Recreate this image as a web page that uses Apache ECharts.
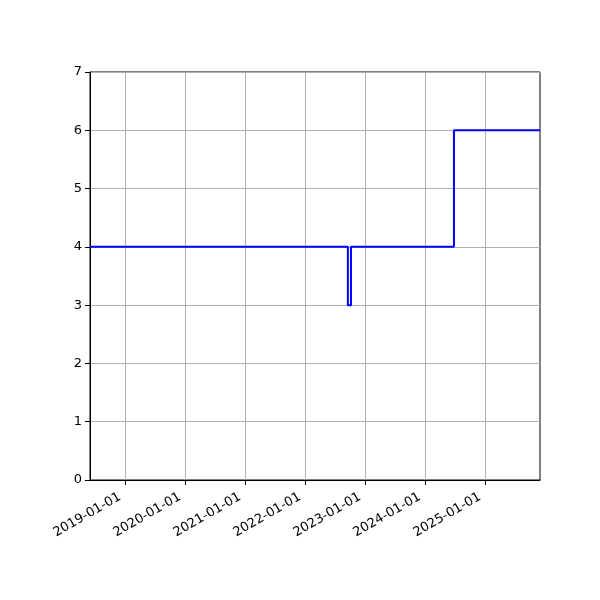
<!DOCTYPE html>
<html>
<head>
<meta charset="utf-8">
<script src="https://cdn.jsdelivr.net/npm/echarts@6/dist/echarts.min.js"></script>
<style>html,body{margin:0;padding:0;background:#fff}#c{width:600px;height:600px}</style>
</head>
<body>
<div id="c"></div>
<script>
var dates = ['2018-06-01', '2022-09-18', '2022-10-07', '2024-06-25', '2025-12-01'];
var values = [4, 3, 4, 6, 6];
var xTickLabels = ['2019-01-01', '2020-01-01', '2021-01-01', '2022-01-01', '2023-01-01', '2024-01-01', '2025-01-01'];
var xMin = '2018-06-01';
var xMax = '2025-12-01';
var yTicks = [0, 1, 2, 3, 4, 5, 6, 7];

function ts(s) { return Date.parse(s + 'T00:00:00Z'); }
function fmt(v) {
  var d = new Date(v);
  var p = function (n) { return (n < 10 ? '0' : '') + n; };
  return d.getUTCFullYear() + '-' + p(d.getUTCMonth() + 1) + '-' + p(d.getUTCDate());
}
var tickVals = xTickLabels.map(ts);
var data = dates.map(function (d, i) { return [ts(d), values[i]]; });

var chart = echarts.init(document.getElementById('c'));
chart.setOption({
  animation: false,
  grid: { left: 90, right: 60, top: 72, bottom: 120, show: true, borderColor: '#000', borderWidth: 1, backgroundColor: 'transparent' },
  xAxis: {
    type: 'value',
    min: ts(xMin), max: ts(xMax),
    axisLine: { show: true, lineStyle: { color: '#000', width: 1 } },
    axisTick: { show: true, customValues: tickVals, length: 5, lineStyle: { color: '#000' } },
    axisLabel: {
      customValues: tickVals, rotate: 30, margin: 13, padding: [0, 6, 0, 0],
      color: '#000', fontSize: 13, fontFamily: 'DejaVu Sans',
      formatter: function (v) { return fmt(v); }
    },
    splitLine: { show: true, lineStyle: { color: '#b0b0b0', width: 1 } }
  },
  yAxis: {
    type: 'value',
    min: yTicks[0], max: yTicks[yTicks.length - 1], interval: 1,
    axisLine: { show: true, lineStyle: { color: '#000', width: 1 } },
    axisTick: { show: true, length: 5, lineStyle: { color: '#000' } },
    axisLabel: { color: '#000', fontSize: 13, fontFamily: 'DejaVu Sans', margin: 8 },
    splitLine: { show: true, lineStyle: { color: '#b0b0b0', width: 1 } }
  },
  series: [{
    type: 'line',
    step: 'end',
    data: data,
    showSymbol: false,
    symbol: 'none',
    lineStyle: { color: '#0000ff', width: 2 },
    clip: true
  }]
});
</script>
</body>
</html>
